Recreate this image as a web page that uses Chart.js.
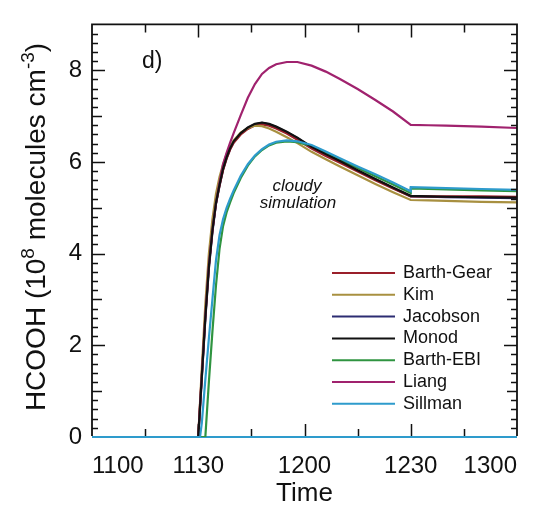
<!DOCTYPE html>
<html>
<head>
<meta charset="utf-8">
<script src="https://cdn.jsdelivr.net/npm/chart.js@4.4.1/dist/chart.umd.min.js"></script>
<style>
  html, body { margin: 0; padding: 0; background: #fff; }
</style>
</head>
<body>
<canvas id="hcoohChart" width="541" height="512"></canvas>
<script>
// minutes after 11:00 (1230 appears twice for the jump)
const times = [0, 30, 30.5, 31, 32, 33, 34, 35, 36, 37, 38, 39, 40, 42, 44, 46, 48, 50, 52, 55, 58, 62, 66, 70, 75, 80, 85, 90, 90, 95, 100, 110, 120];

const barthGear = [0, 0, 0.7, 1.35, 2.65, 3.75, 4.52, 5.1, 5.48, 5.82, 6.07, 6.27, 6.42, 6.6, 6.72, 6.8, 6.82, 6.79, 6.73, 6.62, 6.48, 6.29, 6.13, 5.98, 5.79, 5.6, 5.42, 5.25, 5.25, 5.25, 5.25, 5.25, 5.24];
const kim = [0, 0, 0.75, 1.5, 2.9, 4.0, 4.75, 5.3, 5.67, 5.95, 6.17, 6.33, 6.47, 6.64, 6.74, 6.79, 6.78, 6.73, 6.66, 6.54, 6.41, 6.22, 6.06, 5.9, 5.71, 5.52, 5.34, 5.17, 5.17, 5.16, 5.15, 5.13, 5.12];
const jacobson = [0, 0, 0.62, 1.27, 2.57, 3.67, 4.47, 5.08, 5.48, 5.83, 6.08, 6.28, 6.43, 6.62, 6.74, 6.82, 6.85, 6.82, 6.76, 6.65, 6.52, 6.32, 6.16, 6.01, 5.81, 5.62, 5.43, 5.25, 5.25, 5.24, 5.23, 5.22, 5.21];
const monod = [0, 0, 0.65, 1.3, 2.6, 3.7, 4.5, 5.1, 5.5, 5.85, 6.1, 6.3, 6.45, 6.63, 6.75, 6.83, 6.86, 6.83, 6.77, 6.66, 6.53, 6.33, 6.17, 6.02, 5.82, 5.63, 5.44, 5.26, 5.26, 5.25, 5.24, 5.23, 5.22];
const barthEbi = [0, 0, 0, 0, 0, 1.2, 2.3, 3.3, 4.1, 4.6, 4.9, 5.12, 5.32, 5.65, 5.92, 6.12, 6.26, 6.36, 6.42, 6.45, 6.43, 6.35, 6.2, 6.05, 5.87, 5.69, 5.51, 5.32, 5.42, 5.41, 5.4, 5.38, 5.36];
const liang = [0, 0, 0.7, 1.35, 2.65, 3.75, 4.52, 5.1, 5.55, 5.95, 6.2, 6.42, 6.63, 7.02, 7.4, 7.7, 7.92, 8.05, 8.13, 8.18, 8.18, 8.1, 7.97, 7.81, 7.59, 7.35, 7.1, 6.81, 6.81, 6.8, 6.79, 6.77, 6.74];
const sillman = [0, 0, 0, 0.3, 1.25, 2.15, 3.0, 3.85, 4.4, 4.75, 5.0, 5.2, 5.38, 5.7, 5.95, 6.14, 6.28, 6.38, 6.44, 6.47, 6.45, 6.37, 6.23, 6.08, 5.9, 5.73, 5.55, 5.36, 5.45, 5.44, 5.43, 5.41, 5.39];

const seriesNames = ['Barth-Gear', 'Kim', 'Jacobson', 'Monod', 'Barth-EBI', 'Liang', 'Sillman'];
const seriesValues = [barthGear, kim, jacobson, monod, barthEbi, liang, sillman];
const seriesColors = ['#9a1f2a', '#a89040', '#2c2c72', '#111111', '#2f9440', '#a0226e', '#2e9bcc'];
const drawOrder = [5, 4, 6, 1, 3, 2, 0];

const timeTicks = [0, 30, 60, 90, 120];
const timeLabels = ['1100', '1130', '1200', '1230', '1300'];
const valueTicks = [0, 2, 4, 6, 8];

const FONT = "'Liberation Sans', Arial, Helvetica, sans-serif";

const datasets = seriesNames.map(function(name, i) {
  return {
    label: name,
    data: times.map(function(t, j) { return { x: t, y: seriesValues[i][j] }; }),
    borderColor: seriesColors[i],
    borderWidth: 2.2,
    pointRadius: 0,
    tension: 0,
    fill: false,
    order: drawOrder[i]
  };
});

// frame + inward ticks on all four sides
const framePlugin = {
  id: 'frame',
  beforeDatasetsDraw: function(chart) {
    const c = chart.ctx, a = chart.chartArea;
    c.save();
    c.strokeStyle = seriesColors[6];
    c.lineWidth = 2;
    c.beginPath();
    c.moveTo(a.left, a.bottom); c.lineTo(a.right, a.bottom);
    c.stroke();
    c.restore();
  },
  afterDatasetsDraw: function(chart) {
    const c = chart.ctx, a = chart.chartArea;
    const xs = chart.scales.x, ys = chart.scales.y;
    c.save();
    c.strokeStyle = '#111';
    c.lineWidth = 1.8;
    c.beginPath();
    c.moveTo(a.left, a.bottom - 1); c.lineTo(a.left, a.top);
    c.lineTo(a.right, a.top); c.lineTo(a.right, a.bottom - 1);
    c.stroke();
    c.lineWidth = 1.5;
    c.beginPath();
    for (let t = 15; t < 120; t += 15) {
      const px = Math.round(xs.getPixelForValue(t)) + 0.5;
      const len = t % 30 === 0 ? 13 : 8;
      c.moveTo(px, a.bottom - 1); c.lineTo(px, a.bottom - len);
      c.moveTo(px, a.top); c.lineTo(px, a.top + len);
    }
    for (let k = 1; k < 45; k++) {
      const py = Math.round(ys.getPixelForValue(k * 0.2)) + 0.5;
      const len = k % 10 === 0 ? 13 : (k % 5 === 0 ? 10 : 6);
      c.moveTo(a.left, py); c.lineTo(a.left + len, py);
      c.moveTo(a.right, py); c.lineTo(a.right - len, py);
    }
    c.stroke();
    c.restore();
  }
};

// legend, panel label, annotation and y title with superscripts
const textPlugin = {
  id: 'texts',
  afterDraw: function(chart) {
    const c = chart.ctx;
    c.save();
    c.fillStyle = '#111';
    c.textBaseline = 'middle';
    c.font = '18px ' + FONT;
    seriesNames.forEach(function(name, i) {
      const y = 273 + i * 21.8;
      c.strokeStyle = seriesColors[i];
      c.lineWidth = 2;
      c.beginPath();
      c.moveTo(332, y); c.lineTo(395, y);
      c.stroke();
      c.fillText(name, 403, y);
    });

    c.textBaseline = 'alphabetic';
    c.font = '23px ' + FONT;
    c.fillText('d)', 142, 68);

    c.textAlign = 'center';
    c.font = 'italic 17px ' + FONT;
    c.fillText('cloudy', 297, 191);
    c.fillText('simulation', 298, 208);

    // rotated y-axis title
    const parts = [['HCOOH (10', false], ['8', true], [' molecules cm', false], ['-3', true], [')', false]];
    const big = '28px ' + FONT, small = '19px ' + FONT;
    let total = 0;
    parts.forEach(function(p) { c.font = p[1] ? small : big; total += c.measureText(p[0]).width; });
    c.translate(45, 227);
    c.rotate(-Math.PI / 2);
    c.textAlign = 'left';
    let x = -total / 2;
    parts.forEach(function(p) {
      c.font = p[1] ? small : big;
      c.fillText(p[0], x, p[1] ? -11 : 0);
      x += c.measureText(p[0]).width;
    });
    c.restore();
  }
};

new Chart(document.getElementById('hcoohChart').getContext('2d'), {
  type: 'line',
  data: { datasets: datasets },
  plugins: [framePlugin, textPlugin],
  options: {
    responsive: false,
    animation: false,
    layout: { padding: { top: 12, right: 24, left: 0, bottom: 0 } },
    plugins: { legend: { display: false }, tooltip: { enabled: false } },
    scales: {
      x: {
        type: 'linear',
        min: 0,
        max: 120,
        afterBuildTicks: function(s) { s.ticks = timeTicks.map(function(v) { return { value: v }; }); },
        afterFit: function(s) { s.height = 75; },
        grid: { display: false, drawTicks: false },
        border: { display: false },
        ticks: {
          align: 'inner',
          padding: 15,
          color: '#111',
          font: { family: FONT, size: 24 },
          callback: function(v) { const i = timeTicks.indexOf(v); return i >= 0 ? timeLabels[i] : ''; }
        },
        title: { display: true, text: 'Time', color: '#111', font: { family: FONT, size: 26 }, padding: { top: 0, bottom: 3 } }
      },
      y: {
        type: 'linear',
        min: 0,
        max: 9,
        afterBuildTicks: function(s) { s.ticks = valueTicks.map(function(v) { return { value: v }; }); },
        afterFit: function(s) { s.width = 92; },
        grid: { display: false, drawTicks: false },
        border: { display: false },
        ticks: {
          padding: 10,
          color: '#111',
          font: { family: FONT, size: 24 },
          callback: function(v) { return String(v); }
        }
      }
    }
  }
});
</script>
</body>
</html>
